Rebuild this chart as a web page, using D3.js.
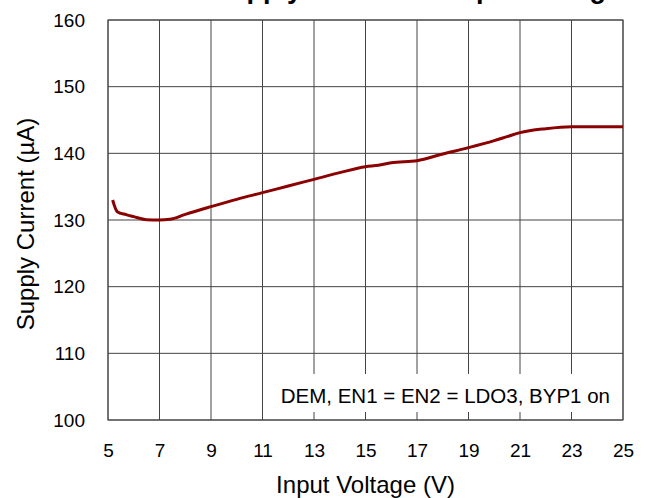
<!DOCTYPE html>
<html>
<head>
<meta charset="utf-8">
<script src="https://cdn.jsdelivr.net/npm/d3@7"></script>
<style>
  html, body { margin: 0; padding: 0; background: #fff; }
  text { font-family: "Liberation Sans", Arial, sans-serif; fill: #000; }
</style>
</head>
<body>
<svg id="chart" width="651" height="498"></svg>
<script>
// Data
const voltage = [5.18, 5.36, 5.7, 6.0, 6.5, 7.0, 7.4, 8.0, 9.0, 10.0, 11.0, 12.0, 13.0, 14.0, 15.0, 15.5, 16.0, 17.0, 18.0, 19.0, 20.0, 20.5, 21.0, 22.0, 23.0, 24.0, 25.0];
const current = [133.0, 131.25, 130.8, 130.5, 130.05, 130.0, 130.1, 130.85, 132.0, 133.1, 134.1, 135.1, 136.1, 137.1, 138.0, 138.2, 138.6, 138.9, 139.9, 140.85, 141.9, 142.5, 143.1, 143.7, 144.0, 144.0, 144.0];
const xTicks = [5, 7, 9, 11, 13, 15, 17, 19, 21, 23, 25];
const yTicks = [100, 110, 120, 130, 140, 150, 160];
const titleText = "Supply Current vs Input Voltage";
const xTitle = "Input Voltage (V)";
const yTitle = "Supply Current (µA)";
const noteText = "DEM, EN1 = EN2 = LDO3, BYP1 on";

const svg = d3.select("#chart");
const L = 108, R = 623, T = 20, B = 420;

const x = d3.scaleLinear().domain([5, 25]).range([L, R]);
const y = d3.scaleLinear().domain([100, 160]).range([B, T]);

// Title (cut off at top, as in the reference)
svg.append("text")
  .attr("x", 212).attr("y", -2.5)
  .style("font-size", "27px").style("font-weight", "bold")
  .text(titleText);

// Grid
const grid = svg.append("g");
grid.selectAll(".vg").data(xTicks).join("line")
  .attr("x1", d => x(d)).attr("x2", d => x(d))
  .attr("y1", T).attr("y2", B)
  .attr("stroke", "#444").attr("stroke-width", 1);
grid.selectAll(".hg").data(yTicks).join("line")
  .attr("x1", L).attr("x2", R)
  .attr("y1", d => y(d)).attr("y2", d => y(d))
  .attr("stroke", "#444").attr("stroke-width", 1);

// Note box (white background hides grid)
svg.append("rect")
  .attr("x", 276).attr("y", 374).attr("width", 345).attr("height", 38)
  .attr("fill", "#fff");
svg.append("text")
  .attr("x", 610).attr("y", 403)
  .attr("text-anchor", "end")
  .style("font-size", "20.5px")
  .text(noteText);

// Frame
svg.append("rect")
  .attr("x", L).attr("y", T).attr("width", R - L).attr("height", B - T)
  .attr("fill", "none").attr("stroke", "#444").attr("stroke-width", 1);

// Axes labels via d3 axes (no domain lines, no ticks)
const xAxis = svg.append("g").attr("transform", `translate(0,${B})`)
  .call(d3.axisBottom(x).tickValues(xTicks).tickSize(0).tickPadding(24).tickFormat(d3.format("d")));
const yAxis = svg.append("g").attr("transform", `translate(${L},0)`)
  .call(d3.axisLeft(y).tickValues(yTicks).tickSize(0).tickPadding(23).tickFormat(d3.format("d")));
[xAxis, yAxis].forEach(a => {
  a.select(".domain").remove();
  a.selectAll("text").style("font-size", "19px")
    .style("font-family", '"Liberation Sans", Arial, sans-serif').attr("fill", "#000");
});

// Axis titles
svg.append("text")
  .attr("x", (L + R) / 2).attr("y", 493)
  .attr("text-anchor", "middle")
  .style("font-size", "24px")
  .text(xTitle);
svg.append("text")
  .attr("transform", `translate(34,224) rotate(-90)`)
  .attr("text-anchor", "middle")
  .style("font-size", "24px")
  .text(yTitle);

// Curve
const line = d3.line().x((d, i) => x(voltage[i])).y(d => y(d)).curve(d3.curveMonotoneX);
svg.append("path")
  .datum(current)
  .attr("d", line)
  .attr("fill", "none")
  .attr("stroke", "#8B0000")
  .attr("stroke-width", 3)
  .attr("stroke-linejoin", "round");
</script>
</body>
</html>
